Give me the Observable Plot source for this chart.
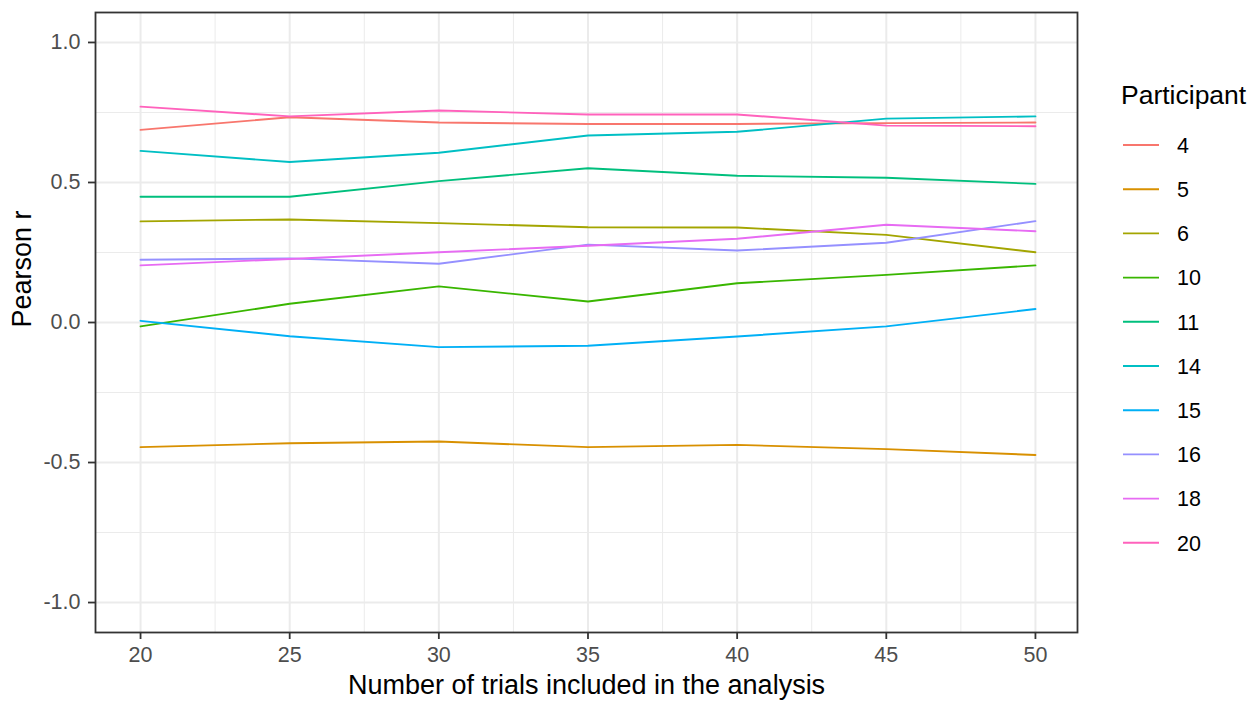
<!DOCTYPE html>
<html>
<head>
<meta charset="utf-8">
<script src="https://cdn.jsdelivr.net/npm/d3@7"></script>
<script src="https://cdn.jsdelivr.net/npm/@observablehq/plot@0.6"></script>
<style>
  html, body { margin: 0; padding: 0; background: #fff; }
  #wrap { position: relative; width: 1254px; height: 702px; font-family: "Liberation Sans", Arial, sans-serif; }
  #legend { position: absolute; left: 0; top: 0; pointer-events: none; }
</style>
</head>
<body>
<div id="wrap"><div id="chart"></div><svg id="legend" width="1254" height="702"></svg></div>
<script>
const trials = [20, 25, 30, 35, 40, 45, 50];
const participants = ["4", "5", "6", "10", "11", "14", "15", "16", "18", "20"];
const colors = ["#F8766D", "#D89000", "#A3A500", "#39B600", "#00BF7D", "#00BFC4", "#00B0F6", "#9590FF", "#E76BF3", "#FF62BC"];
const r_p4  = [0.688, 0.733, 0.714, 0.709, 0.709, 0.712, 0.714];
const r_p5  = [-0.445, -0.431, -0.425, -0.445, -0.437, -0.452, -0.473];
const r_p6  = [0.361, 0.368, 0.355, 0.340, 0.339, 0.313, 0.251];
const r_p10 = [-0.014, 0.067, 0.129, 0.075, 0.140, 0.170, 0.204];
const r_p11 = [0.449, 0.449, 0.505, 0.551, 0.524, 0.517, 0.495];
const r_p14 = [0.613, 0.573, 0.606, 0.668, 0.681, 0.728, 0.736];
const r_p15 = [0.006, -0.049, -0.088, -0.083, -0.050, -0.014, 0.048];
const r_p16 = [0.224, 0.229, 0.210, 0.278, 0.257, 0.285, 0.362];
const r_p18 = [0.204, 0.227, 0.251, 0.274, 0.299, 0.349, 0.326];
const r_p20 = [0.771, 0.736, 0.757, 0.743, 0.743, 0.703, 0.701];
const series = [r_p4, r_p5, r_p6, r_p10, r_p11, r_p14, r_p15, r_p16, r_p18, r_p20];
const yTicks = [-1.0, -0.5, 0.0, 0.5, 1.0];
const yTickLabels = ["-1.0", "-0.5", "0.0", "0.5", "1.0"];
const yMinor = [-0.75, -0.25, 0.25, 0.75];
const xTicks = [20, 25, 30, 35, 40, 45, 50];
const xMinor = [22.5, 27.5, 32.5, 37.5, 42.5, 47.5];

const rows = [];
participants.forEach((p, i) => trials.forEach((t, j) => rows.push({participant: p, trials: t, r: series[i][j]})));

const chart = Plot.plot({
  width: 1254, height: 702,
  marginLeft: 95, marginRight: 177, marginTop: 12, marginBottom: 70,
  style: {fontFamily: "Liberation Sans, Arial, sans-serif", background: "#fff"},
  x: {domain: [18.49, 51.41], label: null},
  y: {domain: [-1.107, 1.107], label: null},
  color: {domain: participants, range: colors},
  marks: [
    Plot.gridX(xMinor, {stroke: "#EBEBEB", strokeOpacity: 1, strokeWidth: 1}),
    Plot.gridY(yMinor, {stroke: "#EBEBEB", strokeOpacity: 1, strokeWidth: 1}),
    Plot.gridX(xTicks, {stroke: "#EBEBEB", strokeOpacity: 1, strokeWidth: 2}),
    Plot.gridY(yTicks, {stroke: "#EBEBEB", strokeOpacity: 1, strokeWidth: 2}),
    Plot.line(rows, {x: "trials", y: "r", z: "participant", stroke: "participant", strokeWidth: 1.9}),
    Plot.frame({stroke: "#333333", strokeWidth: 1.8}),
    Plot.axisX({ticks: xTicks, tickSize: 7, tickPadding: 7, stroke: "#333333", strokeWidth: 1.8, fill: "#4D4D4D", fontSize: 21.5, label: null}),
    Plot.axisY({ticks: yTicks, tickFormat: (d) => yTickLabels[yTicks.indexOf(d)] ?? d3.format(".1f")(d), tickSize: 7, tickPadding: 8, stroke: "#333333", strokeWidth: 1.8, fill: "#4D4D4D", fontSize: 21.5, label: null}),
    Plot.text(["Number of trials included in the analysis"], {frameAnchor: "bottom", dy: 61, fontSize: 27, fill: "#000", text: (d) => d}),
    Plot.text(["Pearson r"], {frameAnchor: "left", dx: -73, dy: 5, rotate: -90, fontSize: 27, fill: "#000", text: (d) => d})
  ]
});
document.getElementById("chart").appendChild(chart);

// legend
const lg = d3.select("#legend").style("font-family", "Liberation Sans, Arial, sans-serif");
lg.append("text").attr("x", 1121).attr("y", 104).attr("font-size", 26.5).attr("fill", "#000").text("Participant");
participants.forEach((p, i) => {
  const yc = 145 + i * 44.2;
  lg.append("line").attr("x1", 1123).attr("x2", 1159).attr("y1", yc).attr("y2", yc)
    .attr("stroke", colors[i]).attr("stroke-width", 1.9);
  lg.append("text").attr("x", 1177).attr("y", yc + 7.7).attr("font-size", 21.5).attr("fill", "#000").text(p);
});
</script>
</body>
</html>
